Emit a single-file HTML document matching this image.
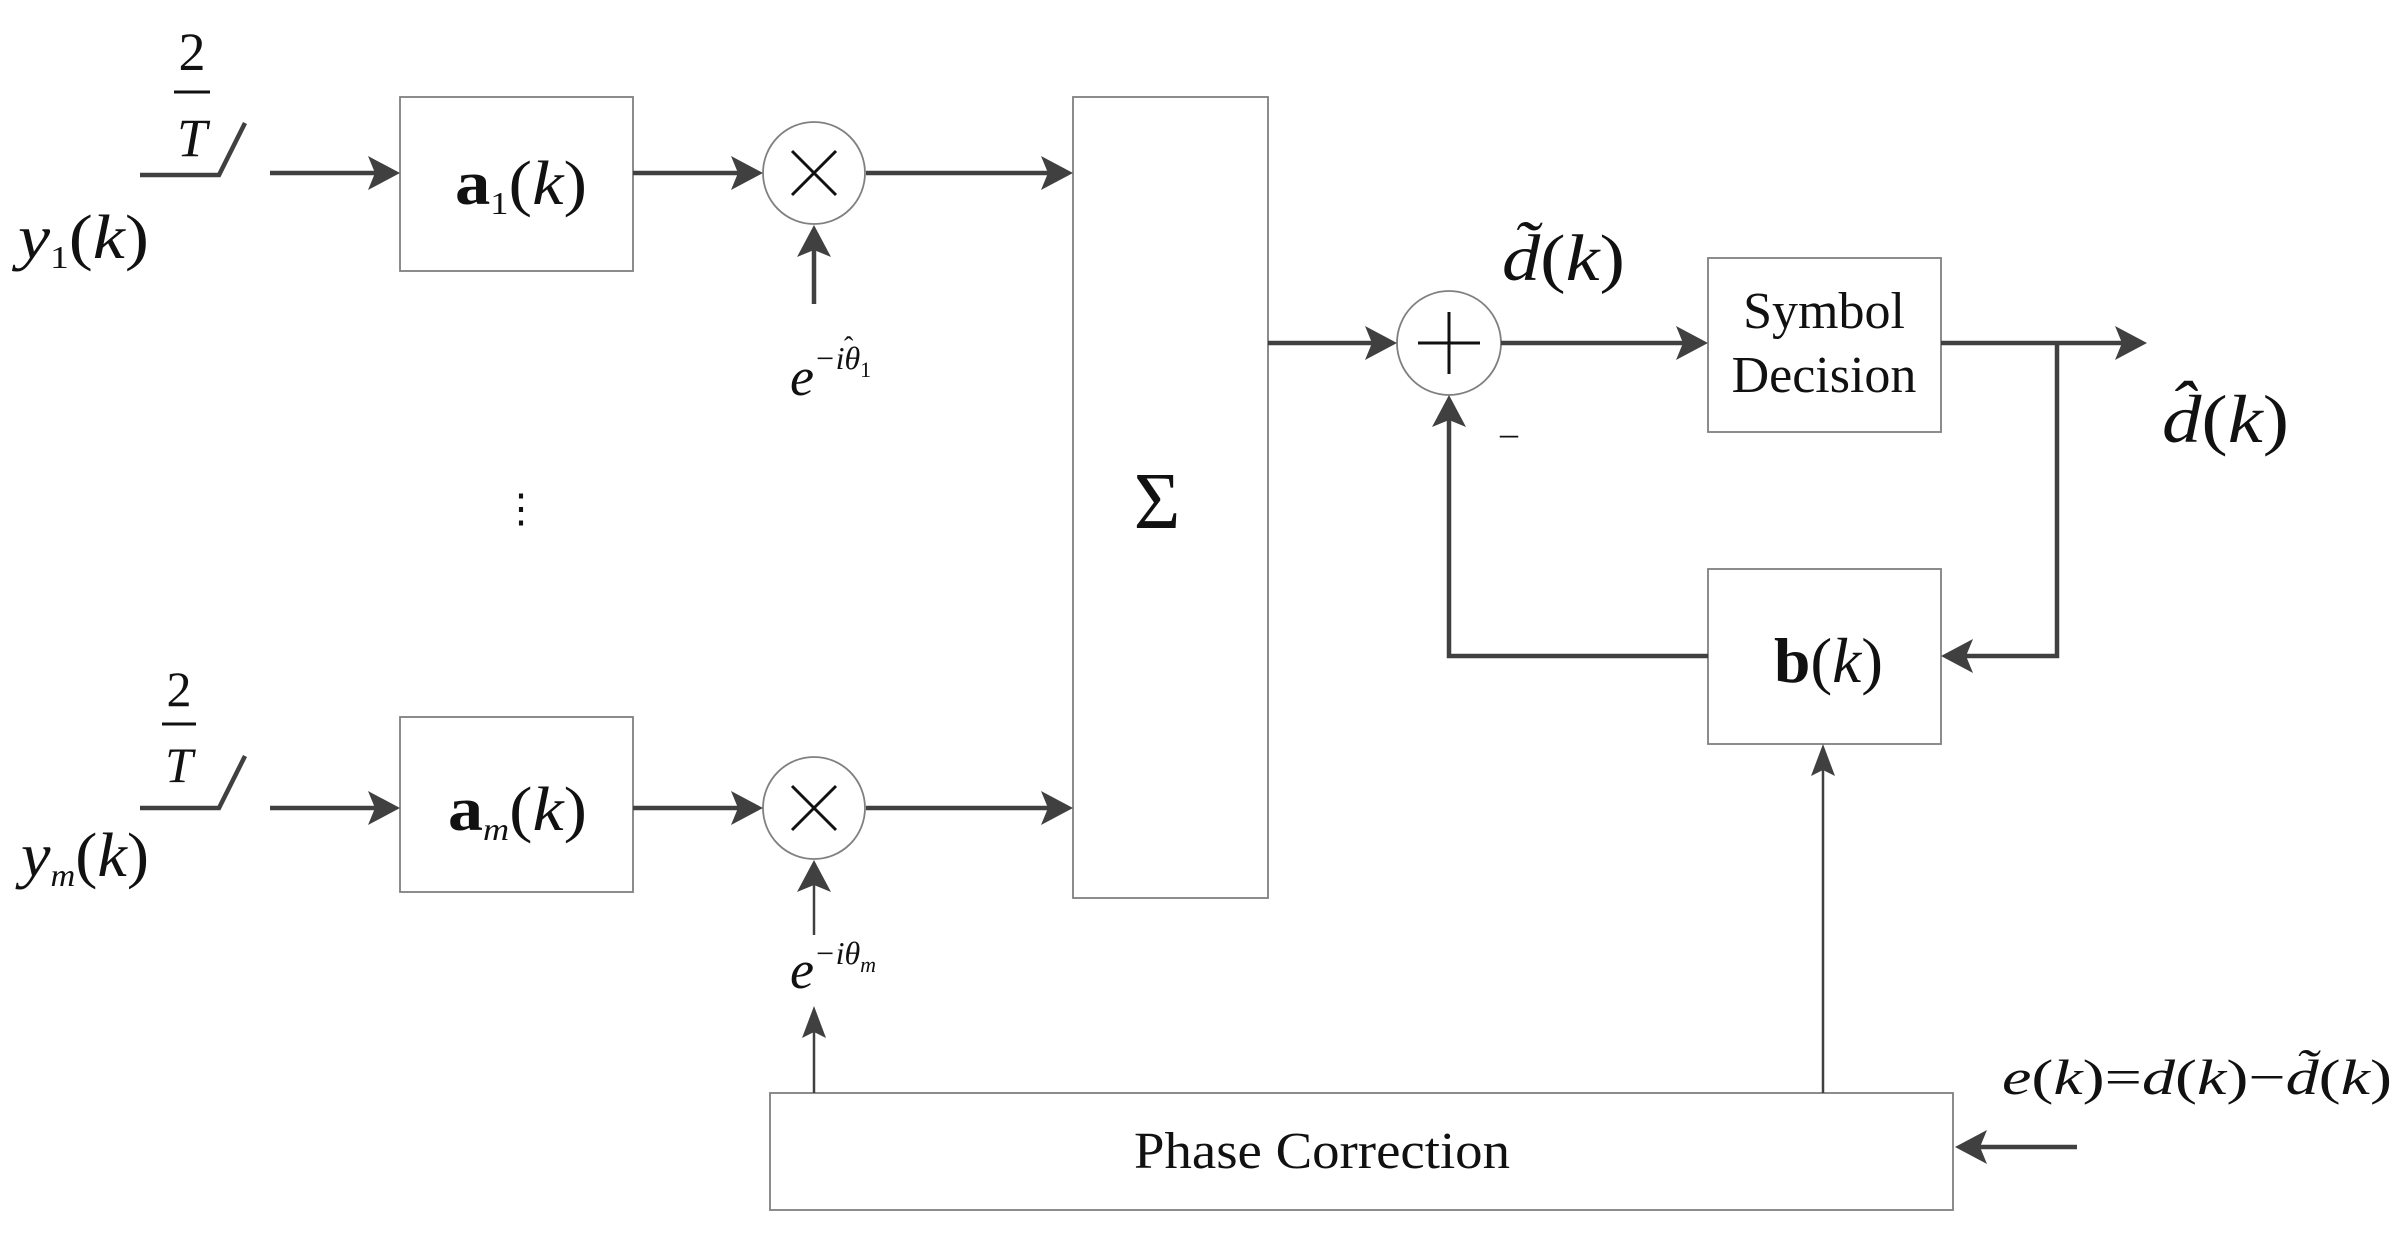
<!DOCTYPE html>
<html><head><meta charset="utf-8"><style>
html,body{margin:0;padding:0;background:#fff;}
svg{display:block;}
text{font-family:"Liberation Serif",serif;fill:#111;}
.it{font-style:italic;}
</style></head><body>
<svg width="2404" height="1240" viewBox="0 0 2404 1240" xmlns="http://www.w3.org/2000/svg">
<g fill="none" stroke="#808080" stroke-width="1.8">
<rect x="400" y="97" width="233" height="174"/>
<rect x="400" y="717" width="233" height="175"/>
<rect x="1073" y="97" width="195" height="801"/>
<rect x="1708" y="258" width="233" height="174"/>
<rect x="1708" y="569" width="233" height="175"/>
<rect x="770" y="1093" width="1183" height="117"/>
<circle cx="814" cy="173" r="51"/>
<circle cx="814" cy="808" r="51"/>
<circle cx="1449" cy="343" r="52"/>
</g>
<g stroke="#404040" stroke-width="4.5" fill="none">
<line x1="270" y1="173" x2="380" y2="173"/>
<line x1="633" y1="173" x2="743" y2="173"/>
<line x1="866" y1="173" x2="1053" y2="173"/>
<line x1="270" y1="808" x2="380" y2="808"/>
<line x1="633" y1="808" x2="743" y2="808"/>
<line x1="866" y1="808" x2="1053" y2="808"/>
<line x1="1268" y1="343" x2="1377" y2="343"/>
<line x1="1501" y1="343" x2="1688" y2="343"/>
<polyline points="1941,343 2127,343"/>
<polyline points="2057,343 2057,656 1961,656"/>
<polyline points="1708,656 1449,656 1449,415"/>
<line x1="814" y1="304" x2="814" y2="245"/>
<line x1="2077" y1="1147" x2="1975" y2="1147"/>
<polyline points="140,175 219,175 245,123"/>
<polyline points="140,808 219,808 245,756"/>
</g>
<g stroke="#404040" stroke-width="2.5">
<line x1="1823" y1="1093" x2="1823" y2="764"/>
<line x1="814" y1="1093" x2="814" y2="1026"/>
<line x1="814" y1="935" x2="814" y2="880"/>
</g>
<g fill="#404040">
<polygon points="400,173 368,156 375,173 368,190"/>
<polygon points="763,173 731,156 738,173 731,190"/>
<polygon points="1073,173 1041,156 1048,173 1041,190"/>
<polygon points="400,808 368,791 375,808 368,825"/>
<polygon points="763,808 731,791 738,808 731,825"/>
<polygon points="1073,808 1041,791 1048,808 1041,825"/>
<polygon points="1397,343 1365,326 1372,343 1365,360"/>
<polygon points="1708,343 1676,326 1683,343 1676,360"/>
<polygon points="2147,343 2115,326 2122,343 2115,360"/>
<polygon points="1941,656 1973,639 1966,656 1973,673"/>
<polygon points="1449,395 1432,427 1449,420 1466,427"/>
<polygon points="814,225 797,257 814,250 831,257"/>
<polygon points="814,860 797,892 814,885 831,892"/>
<polygon points="814,1006 802,1038 814,1032 826,1038"/>
<polygon points="1823,744 1811,776 1823,770 1835,776"/>
<polygon points="1955,1147 1987,1130 1980,1147 1987,1164"/>
</g>
<g stroke="#111" stroke-width="3">
<line x1="792" y1="151" x2="836" y2="195"/><line x1="836" y1="151" x2="792" y2="195"/>
<line x1="792" y1="786" x2="836" y2="830"/><line x1="836" y1="786" x2="792" y2="830"/>
<line x1="1418" y1="343" x2="1480" y2="343"/><line x1="1449" y1="312" x2="1449" y2="374"/>
<line x1="174" y1="92" x2="210" y2="92"/>
<line x1="162" y1="724" x2="196" y2="724"/>
</g>
<text x="192" y="70" font-size="54" text-anchor="middle">2</text>
<text x="192" y="156" font-size="54" text-anchor="middle" class="it">T</text>
<text x="179" y="706" font-size="50" text-anchor="middle">2</text>
<text x="179" y="782" font-size="50" text-anchor="middle" class="it">T</text>
<text x="18" y="258" font-size="62" class="it" textLength="131" lengthAdjust="spacingAndGlyphs">y<tspan font-size="32" font-style="normal" dy="10">1</tspan><tspan dy="-10" font-style="normal">(</tspan>k<tspan font-style="normal">)</tspan></text>
<text x="21" y="876" font-size="62" class="it" textLength="128" lengthAdjust="spacingAndGlyphs">y<tspan font-size="32" dy="10">m</tspan><tspan dy="-10" font-style="normal">(</tspan>k<tspan font-style="normal">)</tspan></text>
<text x="455" y="204" font-size="62" textLength="132" lengthAdjust="spacingAndGlyphs"><tspan font-weight="bold">a</tspan><tspan font-size="32" dy="10">1</tspan><tspan dy="-10">(</tspan><tspan class="it">k</tspan>)</text>
<text x="448" y="830" font-size="62" textLength="139" lengthAdjust="spacingAndGlyphs"><tspan font-weight="bold">a</tspan><tspan font-size="32" dy="10" class="it">m</tspan><tspan dy="-10">(</tspan><tspan class="it">k</tspan>)</text>
<text x="790" y="395" font-size="54" class="it">e<tspan font-size="32" dy="-26">−iθ</tspan><tspan font-size="22" font-style="normal" dy="8">1</tspan></text>
<text x="844" y="356" font-size="28">ˆ</text>
<text x="790" y="988" font-size="54" class="it">e<tspan font-size="32" dy="-24">−iθ</tspan><tspan font-size="22" dy="8">m</tspan></text>
<text x="521" y="522" font-size="40" text-anchor="middle">⋮</text>
<text x="1157" y="528" font-size="80" text-anchor="middle">Σ</text>
<text x="1502" y="280" font-size="66" class="it" textLength="123" lengthAdjust="spacingAndGlyphs">d̃<tspan font-style="normal">(</tspan>k<tspan font-style="normal">)</tspan></text>
<text x="2162" y="442" font-size="68" class="it" textLength="127" lengthAdjust="spacingAndGlyphs">d̂<tspan font-style="normal">(</tspan>k<tspan font-style="normal">)</tspan></text>
<text x="1500" y="445" font-size="36">–</text>
<text x="1824" y="328" font-size="52" text-anchor="middle">Symbol</text>
<text x="1824" y="392" font-size="52" text-anchor="middle">Decision</text>
<text x="1774" y="682" font-size="64" textLength="109" lengthAdjust="spacingAndGlyphs"><tspan font-weight="bold">b</tspan>(<tspan class="it">k</tspan>)</text>
<text x="1134" y="1168" font-size="52" textLength="376" lengthAdjust="spacingAndGlyphs">Phase Correction</text>
<text x="2002" y="1094" font-size="50" class="it" textLength="390" lengthAdjust="spacingAndGlyphs">e<tspan font-style="normal">(</tspan>k<tspan font-style="normal">)=</tspan>d<tspan font-style="normal">(</tspan>k<tspan font-style="normal">)−</tspan>d̃<tspan font-style="normal">(</tspan>k<tspan font-style="normal">)</tspan></text>
</svg>
</body></html>
